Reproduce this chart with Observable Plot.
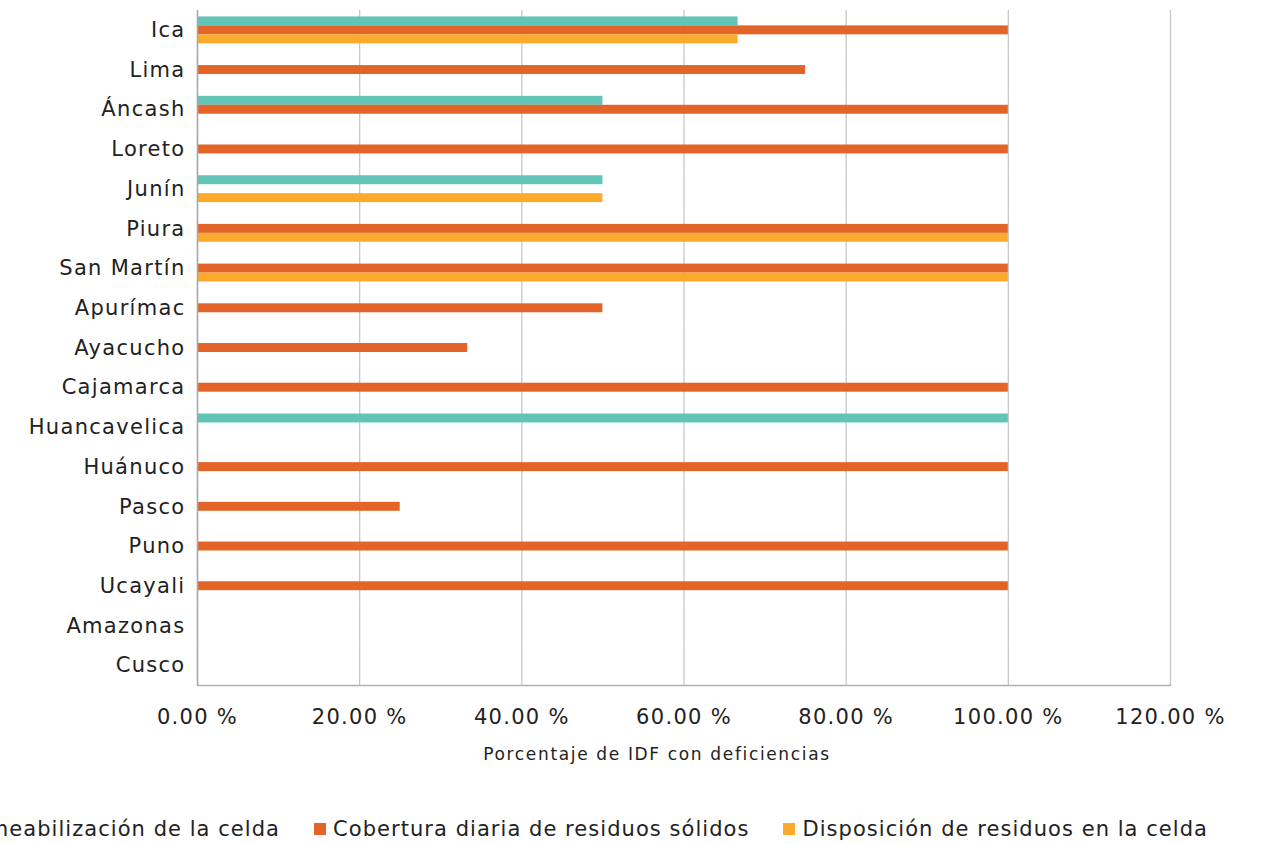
<!DOCTYPE html>
<html>
<head>
<meta charset="utf-8">
<script src="https://cdn.jsdelivr.net/npm/d3@7"></script>
<script src="https://cdn.jsdelivr.net/npm/@observablehq/plot@0.6"></script>
<style>
  html, body { margin: 0; padding: 0; background: #fff; }
  body { width: 1266px; height: 844px; position: relative; overflow: hidden; font-family: "DejaVu Sans", sans-serif; color: #222; }
  #chart { position: absolute; left: 0; top: 0; }
  #xlabel { position: absolute; top: 744px; left: 657px; transform: translateX(-50%); font-size: 17px; letter-spacing: 1.65px; white-space: nowrap; }
  #legend { position: absolute; top: 817px; right: 58px; display: flex; gap: 34px; font-size: 21px; letter-spacing: 1.05px; white-space: nowrap; }
  #legend .item { display: flex; align-items: center; gap: 7px; }
  #legend .sw { width: 12px; height: 12px; display: inline-block; }
</style>
</head>
<body>
<div id="chart"></div>
<div id="xlabel">Porcentaje de IDF con deficiencias</div>
<div id="legend"></div>
<script>
// Departments, top to bottom
const regions = ["Ica", "Lima", "Áncash", "Loreto", "Junín", "Piura", "San Martín", "Apurímac", "Ayacucho", "Cajamarca", "Huancavelica", "Huánuco", "Pasco", "Puno", "Ucayali", "Amazonas", "Cusco"];

// Deficiency categories and colours
const series = ["Impermeabilización de la celda", "Cobertura diaria de residuos sólidos", "Disposición de residuos en la celda"];
const colors = ["#62c4b7", "#e26428", "#fbaa2c"];

// Percentage of IDF with deficiencies, per department
const impermeabilizacion = [66.67, 0, 50, 0, 50, 0, 0, 0, 0, 0, 100, 0, 0, 0, 0, 0, 0];
const cobertura = [100, 75, 100, 100, 0, 100, 100, 50, 33.33, 100, 0, 100, 25, 100, 100, 0, 0];
const disposicion = [66.67, 0, 0, 0, 50, 100, 100, 0, 0, 0, 0, 0, 0, 0, 0, 0, 0];

const xTicks = [0, 20, 40, 60, 80, 100, 120];

const values = [impermeabilizacion, cobertura, disposicion];
const data = [];
regions.forEach((r, i) => {
  series.forEach((s, j) => data.push({region: r, series: s, value: values[j][i]}));
});

const chart = Plot.plot({
  width: 1266,
  height: 775,
  marginLeft: 197,
  marginRight: 96,
  marginTop: 10,
  marginBottom: 90,
  style: {fontFamily: "DejaVu Sans, sans-serif", color: "#222", background: "#fff", letterSpacing: "1.3px"},
  x: {domain: [0, 120], label: null},
  fy: {domain: regions, padding: 0, round: false, label: null},
  y: {domain: series, paddingInner: 0, paddingOuter: 0.72, round: false, axis: null},
  color: {domain: series, range: colors},
  marks: [
    Plot.gridX({ticks: xTicks, stroke: "#c8c8c8", strokeOpacity: 1, strokeWidth: 1.3}),
    Plot.barX(data, {fy: "region", y: "series", x: "value", fill: "series"}),
    Plot.ruleX([0], {stroke: "#a8a8a8", strokeWidth: 1.5}),
    Plot.frame({anchor: "bottom", facetAnchor: "bottom", stroke: "#b0b0b0", strokeWidth: 1.3}),
    Plot.axisFy({anchor: "left", tickSize: 0, tickPadding: 12, fontSize: 21, label: null}),
    Plot.axisX({ticks: xTicks, tickSize: 0, tickPadding: 24, fontSize: 21, label: null,
      tickFormat: d => d.toFixed(2) + " %"})
  ]
});
document.getElementById("chart").appendChild(chart);

// Legend
const legend = document.getElementById("legend");
series.forEach((s, j) => {
  const item = document.createElement("div");
  item.className = "item";
  const sw = document.createElement("span");
  sw.className = "sw";
  sw.style.background = colors[j];
  const t = document.createElement("span");
  t.textContent = s;
  item.appendChild(sw);
  item.appendChild(t);
  legend.appendChild(item);
});
</script>
</body>
</html>
